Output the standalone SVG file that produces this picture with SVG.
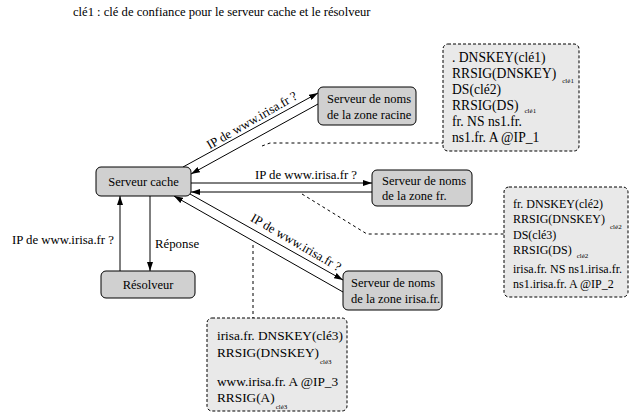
<svg xmlns="http://www.w3.org/2000/svg" width="640" height="414" viewBox="0 0 640 414" font-family="'Liberation Serif', 'Times New Roman', serif">
<defs>
<marker id="ah" markerWidth="9" markerHeight="6" refX="9" refY="3" orient="auto" markerUnits="userSpaceOnUse">
<path d="M0,0 L9,3 L0,6 z" fill="#000"/>
</marker>
<style>
text{font-family:"Liberation Serif","Times New Roman",serif;fill:#000}
.node rect{fill:#d0d0d0;stroke:#000;stroke-width:1}
.nt{font-size:12.5px}
.note rect{fill:#e9e9e9;stroke:#000;stroke-width:1;stroke-dasharray:3,2}
.n1{font-size:13.6px}
.n2{font-size:12px}
.n3{font-size:13.3px}
.sub{font-size:7px}
.ln{stroke:#000;stroke-width:1;fill:none;marker-end:url(#ah)}
.dl{stroke:#000;stroke-width:1;fill:none;stroke-dasharray:3,3}
.lbl{font-size:12.8px}
</style>
</defs>
<text x="73" y="16" font-size="12.6">clé1 : clé de confiance pour le serveur cache et le résolveur</text>

<g id="connectors">
<line class="ln" x1="183" y1="167" x2="318" y2="93"/>
<line class="ln" x1="318" y1="104" x2="191" y2="174"/>
<line class="ln" x1="191" y1="183" x2="372" y2="183"/>
<line class="ln" x1="372" y1="192" x2="191" y2="192"/>
<line class="ln" x1="190" y1="194" x2="343" y2="280"/>
<line class="ln" x1="343" y1="292" x2="174" y2="196"/>
<line class="ln" x1="120" y1="271" x2="120" y2="196"/>
<line class="ln" x1="150" y1="196" x2="150" y2="271"/>
<path class="dl" d="M262,146 L270,143 L443,143"/>
<path class="dl" d="M302,194 L367,234 L504,234"/>
<path class="dl" d="M253,245 L253,318"/>
<text class="lbl" text-anchor="middle" transform="translate(254,124) rotate(-30)">IP de www.irisa.fr ?</text>
<text class="lbl" x="306" y="179" text-anchor="middle">IP de www.irisa.fr ?</text>
<text class="lbl" text-anchor="middle" transform="translate(294,246) rotate(30)">IP de www.irisa.fr ?</text>
<text class="lbl" x="114" y="244" text-anchor="end">IP de www.irisa.fr ?</text>
<text class="lbl" x="155" y="248">Réponse</text>
</g>

<g id="cache" class="node">
<rect x="96" y="167" width="95" height="29" rx="5"/>
<text class="nt" x="143.5" y="186" text-anchor="middle">Serveur cache</text>
</g>
<g id="resolveur" class="node">
<rect x="101" y="271" width="94" height="27" rx="5"/>
<text class="nt" x="148" y="289" text-anchor="middle">Résolveur</text>
</g>
<g id="racine" class="node">
<rect x="318" y="87" width="98" height="38" rx="5"/>
<text class="nt" x="327" y="103">Serveur de noms</text>
<text class="nt" x="327" y="119">de la zone racine</text>
</g>
<g id="zonefr" class="node">
<rect x="372" y="170" width="100" height="36" rx="5"/>
<text class="nt" x="382" y="185">Serveur de noms</text>
<text class="nt" x="382" y="200">de la zone fr.</text>
</g>
<g id="zoneirisa" class="node">
<rect x="343" y="271" width="99" height="39" rx="5"/>
<text class="nt" x="351" y="287">Serveur de noms</text>
<text class="nt" x="351" y="303">de la zone irisa.fr.</text>
</g>

<g id="note1" class="note">
<rect x="443" y="44" width="136" height="107" rx="5"/>
<text class="n1" x="452" y="62">. DNSKEY(clé1)</text>
<text class="n1" x="452" y="78">RRSIG(DNSKEY)<tspan class="sub" dx="6" dy="5">clé1</tspan></text>
<text class="n1" x="452" y="94">DS(clé2)</text>
<text class="n1" x="452" y="110">RRSIG(DS)<tspan class="sub" dx="6" dy="3">clé1</tspan></text>
<text class="n1" x="452" y="126">fr. NS ns1.fr.</text>
<text class="n1" x="452" y="142">ns1.fr. A @IP_1</text>
</g>
<g id="note2" class="note">
<rect x="504" y="187" width="124" height="110" rx="5"/>
<text class="n2" x="513" y="208">fr. DNSKEY(clé2)</text>
<text class="n2" x="513" y="223">RRSIG(DNSKEY)<tspan class="sub" dx="5" dy="6">clé2</tspan></text>
<text class="n2" x="513" y="239">DS(clé3)</text>
<text class="n2" x="513" y="254">RRSIG(DS)<tspan class="sub" dx="5" dy="4">clé2</tspan></text>
<text class="n2" x="513" y="273">irisa.fr. NS ns1.irisa.fr.</text>
<text class="n2" x="513" y="288">ns1.irisa.fr. A @IP_2</text>
</g>
<g id="note3" class="note">
<rect x="207" y="318" width="140" height="93" rx="5"/>
<text class="n3" x="217" y="340">irisa.fr. DNSKEY(clé3)</text>
<text class="n3" x="217" y="357">RRSIG(DNSKEY)<tspan class="sub" dx="1" dy="7">clé3</tspan></text>
<text class="n3" x="217" y="386">www.irisa.fr. A @IP_3</text>
<text class="n3" x="217" y="402">RRSIG(A)<tspan class="sub" dx="1" dy="7">clé3</tspan></text>
</g>
</svg>
